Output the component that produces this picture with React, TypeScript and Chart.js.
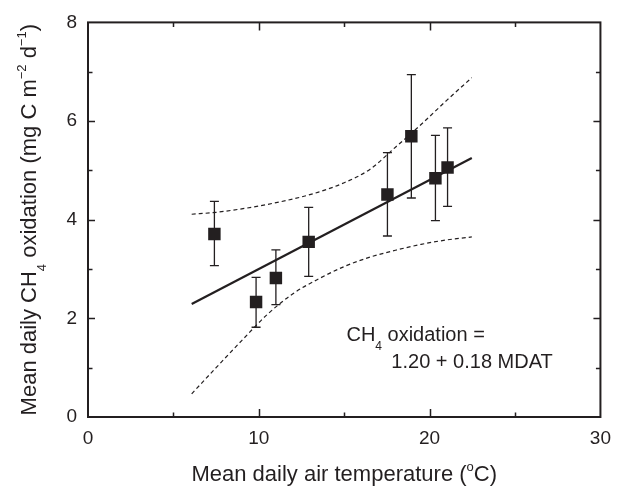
import React, { useEffect, useRef } from 'react';
import { Chart, registerables } from 'chart.js';

Chart.register(...registerables);

// ---- data ----
const temperature = [7.4, 9.84, 11.0, 12.92, 17.53, 18.93, 20.34, 21.05];
const oxidation = [3.71, 2.33, 2.82, 3.55, 4.51, 5.69, 4.84, 5.06];
const errorTop = [4.37, 2.83, 3.39, 4.25, 5.36, 6.94, 5.71, 5.86];
const errorBottom = [3.07, 1.82, 2.28, 2.85, 3.67, 4.44, 3.98, 4.27];

const fitX = [6.07, 22.47];
const fitY = [2.29, 5.25];

const bandX = [6.07, 7.5, 9, 10.5, 12, 13.5, 15, 16.5, 18, 19.5, 21, 22.47];
const bandUpper = [4.11, 4.15, 4.22, 4.31, 4.42, 4.56, 4.75, 5.02, 5.47, 5.93, 6.42, 6.88];
const bandLower = [0.47, 1.0, 1.55, 2.08, 2.5, 2.8, 3.05, 3.24, 3.38, 3.5, 3.59, 3.65];

const xTicks = [0, 10, 20, 30];
const yTicks = [0, 2, 4, 6, 8];

const INK = '#231f20';
const FAMILY = '"Liberation Sans", Arial, Helvetica, sans-serif';

type Part = [string, 'n' | 'sub' | 'sup'];

function drawRich(ctx: CanvasRenderingContext2D, parts: Part[], x: number, baseline: number, align: 'left' | 'center', size: number) {
  const big = `${size}px ${FAMILY}`;
  const small = `${Math.round(size * 0.6)}px ${FAMILY}`;
  let total = 0;
  const widths = parts.map(([t, m]) => {
    ctx.font = m === 'n' ? big : small;
    const w = ctx.measureText(t).width;
    total += w;
    return w;
  });
  let cx = align === 'center' ? x - total / 2 : x;
  ctx.textAlign = 'left';
  ctx.textBaseline = 'alphabetic';
  ctx.fillStyle = INK;
  parts.forEach(([t, m], i) => {
    ctx.font = m === 'n' ? big : small;
    const dy = m === 'sub' ? size * 0.45 : m === 'sup' ? -size * 0.45 : 0;
    ctx.fillText(t, cx, baseline + dy);
    cx += widths[i];
  });
}

const framePlugin = {
  id: 'frameAndExtras',
  beforeDatasetsDraw(chart: any) {
    const { ctx, scales } = chart;
    const xs = scales.x, ys = scales.y;
    ctx.save();
    ctx.strokeStyle = INK;
    ctx.lineWidth = 1.3;
    for (let i = 0; i < temperature.length; i++) {
      const px = xs.getPixelForValue(temperature[i]);
      const top = ys.getPixelForValue(errorTop[i]);
      const bot = ys.getPixelForValue(errorBottom[i]);
      ctx.beginPath();
      ctx.moveTo(px, top);
      ctx.lineTo(px, bot);
      ctx.moveTo(px - 4.5, top);
      ctx.lineTo(px + 4.5, top);
      ctx.moveTo(px - 4.5, bot);
      ctx.lineTo(px + 4.5, bot);
      ctx.stroke();
    }
    ctx.restore();
  },
  afterDraw(chart: any) {
    const { ctx, chartArea: a, scales } = chart;
    const xs = scales.x, ys = scales.y;
    ctx.save();
    ctx.strokeStyle = INK;
    ctx.lineWidth = 2;
    ctx.strokeRect(a.left, a.top, a.right - a.left, a.bottom - a.top);
    ctx.lineWidth = 1.5;
    ctx.beginPath();
    for (let v = 1; v < 8; v++) {
      const py = Math.round(ys.getPixelForValue(v)) + 0.5;
      const len = v % 2 === 0 ? 7 : 4.5;
      ctx.moveTo(a.left, py); ctx.lineTo(a.left + len, py);
      ctx.moveTo(a.right, py); ctx.lineTo(a.right - len, py);
    }
    for (let v = 5; v < 30; v += 5) {
      const px = Math.round(xs.getPixelForValue(v)) + 0.5;
      const len = v % 10 === 0 ? 8 : 4.5;
      ctx.moveTo(px, a.bottom); ctx.lineTo(px, a.bottom - len);
      ctx.moveTo(px, a.top); ctx.lineTo(px, a.top + len);
    }
    ctx.stroke();

    // axis titles
    const titleSize = 22;
    drawRich(ctx, [['Mean daily air temperature (', 'n'], ['o', 'sup'], ['C)', 'n']],
      (a.left + a.right) / 2, 481, 'center', titleSize);

    ctx.save();
    ctx.translate(36, (a.top + a.bottom) / 2);
    ctx.rotate(-Math.PI / 2);
    drawRich(ctx, [
      ['Mean daily CH', 'n'], ['4', 'sub'], [' oxidation (mg C m', 'n'], ['\u22122', 'sup'],
      [' d', 'n'], ['\u22121', 'sup'], [')', 'n'],
    ], 0, 0, 'center', titleSize);
    ctx.restore();

    // equation annotation
    const size = 20;
    drawRich(ctx, [['CH', 'n'], ['4', 'sub'], [' oxidation =', 'n']],
      xs.getPixelForValue(15.13), ys.getPixelForValue(1.68) + 7, 'left', size);
    drawRich(ctx, [['1.20 + 0.18 MDAT', 'n']],
      xs.getPixelForValue(17.76), ys.getPixelForValue(1.14) + 7, 'left', size);
    ctx.restore();
  },
};

export default function App() {
  const ref = useRef<HTMLCanvasElement | null>(null);
  useEffect(() => {
    if (!ref.current) return;
    const chart = new Chart(ref.current, {
      type: 'scatter',
      data: {
        datasets: [
          {
            label: 'points',
            data: temperature.map((t, i) => ({ x: t, y: oxidation[i] })),
            pointStyle: 'rect',
            pointRadius: 8.8,
            backgroundColor: INK,
            borderColor: INK,
            borderWidth: 0,
            showLine: false,
          },
          {
            label: 'fit',
            data: fitX.map((t, i) => ({ x: t, y: fitY[i] })),
            showLine: true,
            borderColor: INK,
            borderWidth: 2.2,
            pointRadius: 0,
          },
          {
            label: 'upper',
            data: bandX.map((t, i) => ({ x: t, y: bandUpper[i] })),
            showLine: true,
            borderColor: INK,
            borderWidth: 1.2,
            borderDash: [4, 3],
            pointRadius: 0,
            cubicInterpolationMode: 'monotone',
          },
          {
            label: 'lower',
            data: bandX.map((t, i) => ({ x: t, y: bandLower[i] })),
            showLine: true,
            borderColor: INK,
            borderWidth: 1.2,
            borderDash: [4, 3],
            pointRadius: 0,
            cubicInterpolationMode: 'monotone',
          },
        ],
      },
      options: {
        responsive: false,
        animation: false,
        layout: { padding: { left: 0, top: 19, right: 20, bottom: 0 } },
        plugins: { legend: { display: false }, tooltip: { enabled: false } },
        scales: {
          x: {
            type: 'linear',
            min: 0,
            max: 30,
            grid: { display: false, drawTicks: false },
            border: { display: false },
            afterBuildTicks: (s: any) => { s.ticks = xTicks.map((v) => ({ value: v })); },
            afterFit: (s: any) => { s.height = 72; },
            ticks: { color: INK, font: { size: 19, family: FAMILY }, padding: 10, maxRotation: 0 },
          },
          y: {
            type: 'linear',
            min: 0,
            max: 8,
            grid: { display: false, drawTicks: false },
            border: { display: false },
            afterBuildTicks: (s: any) => { s.ticks = yTicks.map((v) => ({ value: v })); },
            afterFit: (s: any) => { s.width = 88; },
            ticks: { color: INK, font: { size: 19, family: FAMILY }, padding: 11 },
          },
        },
      },
      plugins: [framePlugin],
    } as any);
    return () => chart.destroy();
  }, []);
  return (
    <div style={{ position: 'fixed', left: 0, top: 0, width: 621, height: 489, background: '#fff' }}>
      <canvas ref={ref} width={621} height={489} style={{ width: 621, height: 489 }} />
    </div>
  );
}
